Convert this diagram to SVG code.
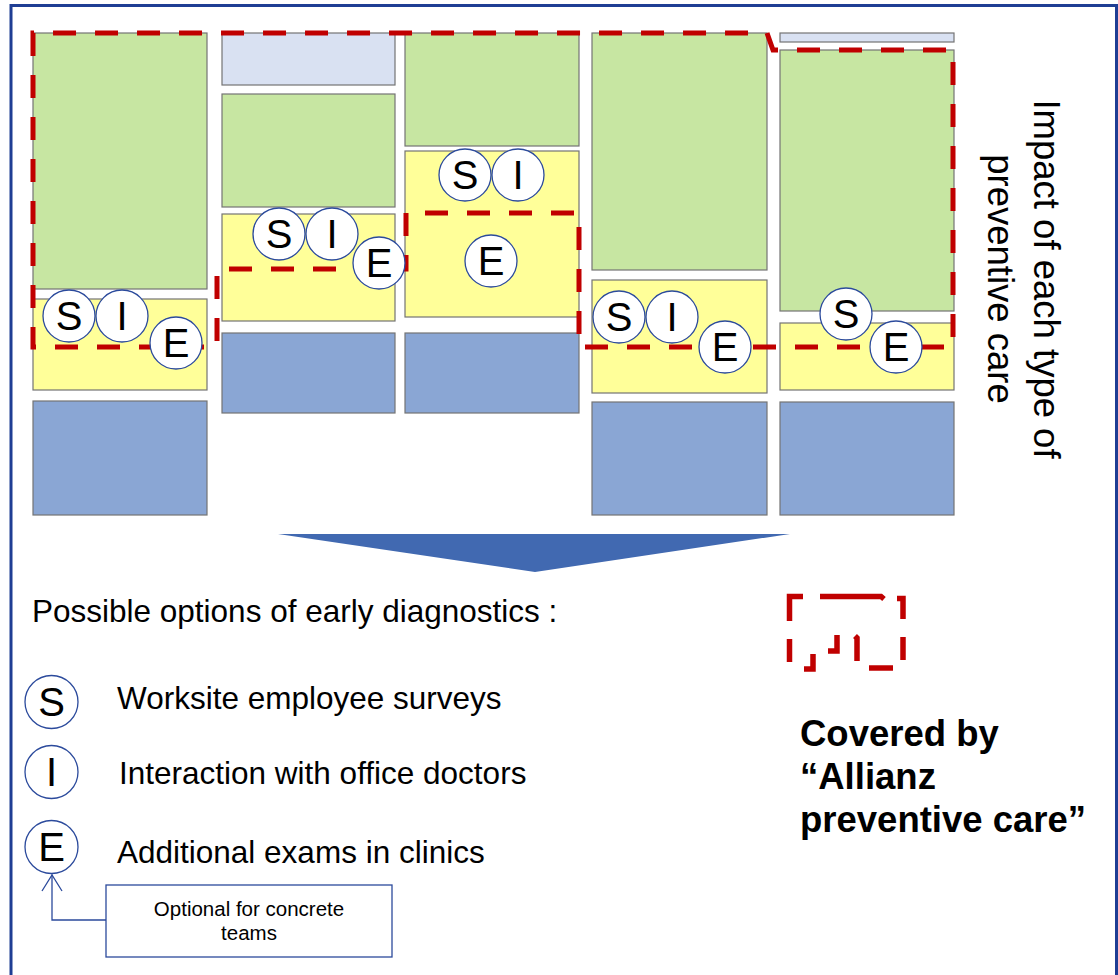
<svg xmlns="http://www.w3.org/2000/svg" width="1118" height="975" viewBox="0 0 1118 975">
<style>
.r{stroke:#747474;stroke-width:1.2}
.g{fill:#C7E6A2}
.lb{fill:#D9E1F2}
.y{fill:#FFFF99}
.b{fill:#8AA6D4}
.c{fill:#FFFFFF;stroke:#2B4A9C;stroke-width:1.3}
.ct{font-family:"Liberation Sans",Arial,sans-serif;font-size:40px;text-anchor:middle;fill:#000}
.red{fill:none;stroke:#C00000;stroke-width:5;stroke-dasharray:23 19}
.redi{fill:none;stroke:#C00000;stroke-width:5.5}
.t{font-family:"Liberation Sans",Arial,sans-serif;font-size:31.5px;fill:#000}
.bt{font-family:"Liberation Sans",Arial,sans-serif;font-size:36.5px;font-weight:bold;fill:#000}
.rt{font-family:"Liberation Sans",Arial,sans-serif;font-size:36.5px;fill:#000;text-anchor:middle}
.sm{font-family:"Liberation Sans",Arial,sans-serif;font-size:20.5px;fill:#000;text-anchor:middle}
.ln{fill:none;stroke:#2B4A9C;stroke-width:1.3}
</style>
<rect width="1118" height="975" fill="#FFFFFF"/>
<path d="M11,990 V5.5 H1116.5 V990" fill="none" stroke="#1F3E94" stroke-width="3"/>

<g id="column1">
<rect class="r g" x="33" y="33" width="174" height="256"/>
<rect class="r y" x="33" y="299" width="174" height="91"/>
<rect class="r b" x="33" y="401" width="174" height="114"/>
</g>
<g id="column2">
<rect class="r lb" x="222" y="33" width="173" height="52"/>
<rect class="r g" x="222" y="94" width="173" height="113"/>
<rect class="r y" x="222" y="214" width="173" height="107"/>
<rect class="r b" x="222" y="333" width="173" height="80"/>
</g>
<g id="column3">
<rect class="r g" x="405" y="33" width="174" height="113"/>
<rect class="r y" x="405" y="151" width="174" height="166"/>
<rect class="r b" x="405" y="333" width="174" height="80"/>
</g>
<g id="column4">
<rect class="r g" x="592" y="33" width="175" height="237"/>
<rect class="r y" x="592" y="280" width="175" height="113"/>
<rect class="r b" x="592" y="402" width="175" height="113"/>
</g>
<g id="column5">
<rect class="r lb" x="780" y="33" width="174" height="9"/>
<rect class="r g" x="780" y="50" width="174" height="261"/>
<rect class="r y" x="780" y="323" width="174" height="67"/>
<rect class="r b" x="780" y="402" width="174" height="113"/>
</g>

<g id="coverage-boundary">
<path class="red" d="M33,33 V347 H217 V269 H406 V213 H579 V347 H953 V50 H773 L767,33 Z"/>
</g>

<g id="markers">
<g id="c1-S"><circle class="c" cx="69" cy="316" r="26"/><text class="ct" x="69" y="330">S</text></g>
<g id="c1-I"><circle class="c" cx="122" cy="316" r="26"/><text class="ct" x="122" y="330">I</text></g>
<g id="c1-E"><circle class="c" cx="176" cy="343" r="26"/><text class="ct" x="176" y="357">E</text></g>
<g id="c2-S"><circle class="c" cx="279" cy="234" r="26"/><text class="ct" x="279" y="248">S</text></g>
<g id="c2-I"><circle class="c" cx="332" cy="234" r="26"/><text class="ct" x="332" y="248">I</text></g>
<g id="c2-E"><circle class="c" cx="379" cy="263" r="26"/><text class="ct" x="379" y="277">E</text></g>
<g id="c3-S"><circle class="c" cx="465" cy="175" r="26"/><text class="ct" x="465" y="189">S</text></g>
<g id="c3-I"><circle class="c" cx="518" cy="175" r="26"/><text class="ct" x="518" y="189">I</text></g>
<g id="c3-E"><circle class="c" cx="491" cy="261" r="26"/><text class="ct" x="491" y="275">E</text></g>
<g id="c4-S"><circle class="c" cx="619" cy="317" r="26"/><text class="ct" x="619" y="331">S</text></g>
<g id="c4-I"><circle class="c" cx="672" cy="317" r="26"/><text class="ct" x="672" y="331">I</text></g>
<g id="c4-E"><circle class="c" cx="725" cy="347" r="26"/><text class="ct" x="725" y="361">E</text></g>
<g id="c5-S"><circle class="c" cx="846" cy="314" r="26"/><text class="ct" x="846" y="328">S</text></g>
<g id="c5-E"><circle class="c" cx="896" cy="347" r="26"/><text class="ct" x="896" y="361">E</text></g>
</g>

<g id="axis-label">
<text class="rt" transform="translate(1034,279) rotate(90)">Impact of each type of</text>
<text class="rt" transform="translate(988,279) rotate(90)">preventive care</text>
</g>

<g id="arrow">
<polygon points="278,534 790,534 535,572" fill="#4169B1"/>
</g>

<g id="legend">
<text class="t" x="32" y="622">Possible options of early diagnostics :</text>
<g id="leg-S"><circle class="c" cx="51.5" cy="702" r="26.5"/><text class="ct" x="51.5" y="716">S</text></g>
<text class="t" x="117" y="709">Worksite employee surveys</text>
<g id="leg-I"><circle class="c" cx="51.5" cy="772" r="26.5"/><text class="ct" x="51.5" y="786">I</text></g>
<text class="t" x="119" y="784">Interaction with office doctors</text>
<g id="leg-E"><circle class="c" cx="51.5" cy="847" r="26.5"/><text class="ct" x="51.5" y="861">E</text></g>
<text class="t" x="117" y="863">Additional exams in clinics</text>
</g>

<g id="callout">
<rect x="106" y="885" width="286" height="72" fill="#FFFFFF" stroke="#2B4A9C" stroke-width="1.3"/>
<text class="sm" x="249" y="916">Optional for concrete</text>
<text class="sm" x="249" y="940">teams</text>
</g>

<g id="connectors">
<path class="ln" d="M106,920 H52 V874.5"/>
<path class="ln" d="M42,891 L52,875 L62,891"/>
</g>

<g id="coverage-legend">
<path class="redi" d="M803,596.5 H789.5 V621"/>
<path class="redi" d="M820,596.5 H881 L884,599"/>
<path class="redi" d="M897,598.5 H903 V619"/>
<path class="redi" d="M789.5,639 V662"/>
<path class="redi" d="M813,654 V669 H804"/>
<path class="redi" d="M837,635 V651 H828"/>
<path class="redi" d="M855,636 L857,638 V661"/>
<path class="redi" d="M869,668 H893"/>
<path class="redi" d="M903,637 V660"/>
<text class="bt" x="800" y="746">Covered by</text>
<text class="bt" x="800" y="789">“Allianz</text>
<text class="bt" x="800" y="832">preventive care”</text>
</g>
</svg>
